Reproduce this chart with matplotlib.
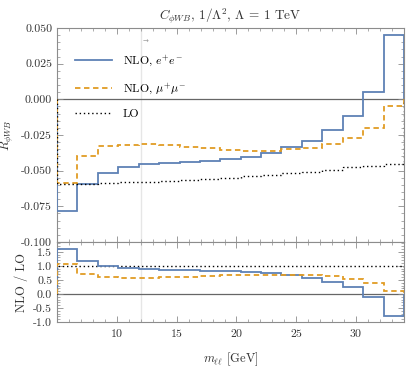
import matplotlib
matplotlib.use("Agg")
import matplotlib.pyplot as plt
import numpy as np
from matplotlib.ticker import MultipleLocator, FixedLocator, FormatStrFormatter

# bin edges in m_ll [GeV]
edges = [5.0, 6.71, 8.41, 10.12, 11.82, 13.53, 15.24, 16.94, 18.65, 20.35,
         22.06, 23.76, 25.47, 27.18, 28.88, 30.59, 32.29, 34.0]
xticks = [10, 15, 20, 25, 30]

# R_phiWB, upper panel
nlo_ee = [-0.0785, -0.0593, -0.0513, -0.0472, -0.0456, -0.0446, -0.0439, -0.0432, -0.0418,
          -0.0401, -0.0377, -0.0337, -0.0289, -0.0218, -0.0118, 0.0048, 0.0449]
nlo_mm = [-0.0585, -0.0394, -0.0325, -0.0322, -0.0310, -0.0320, -0.0334, -0.0344, -0.0356,
          -0.0363, -0.0363, -0.0349, -0.0344, -0.0311, -0.0268, -0.0202, -0.0047]
lo = [-0.0590, -0.0593, -0.0586, -0.0580, -0.0576, -0.0569, -0.0562, -0.0557, -0.0551,
      -0.0536, -0.0527, -0.0517, -0.0506, -0.0496, -0.0477, -0.0465, -0.0453]

# NLO / LO, lower panel
ratio_ee = [1.60, 1.19, 1.01, 0.93, 0.89, 0.87, 0.85, 0.83, 0.80, 0.77, 0.73, 0.67,
            0.57, 0.41, 0.23, -0.11, -0.77]
ratio_mm = [1.08, 0.71, 0.59, 0.57, 0.58, 0.59, 0.62, 0.65, 0.68, 0.69, 0.69, 0.69,
            0.67, 0.64, 0.54, 0.40, 0.09]
ratio_lo = [1.0] * 17

blue = "#5e81b5"
orange = "#e19c24"
frame = "#8c8c8c"

plt.rcParams["font.family"] = ["cmr10", "DejaVu Serif"]
plt.rcParams["mathtext.fontset"] = "cm"
plt.rcParams["axes.formatter.use_mathtext"] = True
plt.rcParams["axes.unicode_minus"] = True

fig = plt.figure(figsize=(4.07, 3.67), dpi=100)
ax = fig.add_axes([57/407, 1-242/367, 347/407, 214/367])
ax2 = fig.add_axes([57/407, 1-322/367, 347/407, 80/367])


def style(a):
    for s in a.spines.values():
        s.set_color(frame)
        s.set_linewidth(0.8)
    a.tick_params(which="both", direction="in", top=True, right=True,
                  color=frame, labelsize=8.5, labelcolor="#333333")
    a.tick_params(which="major", length=4, width=0.6)
    a.tick_params(which="minor", length=2, width=0.5)
    a.xaxis.set_major_locator(FixedLocator(xticks))
    a.xaxis.set_minor_locator(MultipleLocator(1))
    a.set_xlim(5, 34)
    a.axvline(12, color="#e6e6e6", lw=1.0, zorder=0)


style(ax)
style(ax2)

# upper panel
ax.axhline(0, color="#666666", lw=0.9, zorder=1)
ax.stairs(nlo_ee, edges, color=blue, lw=1.3, label="NLO, $e^{+}e^{-}$", zorder=3)
ax.stairs(nlo_mm, edges, color=orange, lw=1.3, ls=(0, (3, 2)), label="NLO, $\\mu^{+}\\mu^{-}$", zorder=3)
ax.stairs(lo, edges, color="black", lw=1.0, ls=(0, (1, 2)), label="LO", zorder=3)
ax.set_ylim(-0.1, 0.05)
ax.yaxis.set_major_locator(MultipleLocator(0.025))
ax.yaxis.set_minor_locator(MultipleLocator(0.005))
ax.yaxis.set_major_formatter(FormatStrFormatter("%.3f"))
ax.tick_params(labelbottom=False)
ax.set_ylabel("$R_{\\phi WB}$", fontsize=9, color="#333333", labelpad=4)
ax.set_title("$C_{\\phi WB}$, $1/\\Lambda^2$, $\\Lambda$ = 1 TeV", fontsize=9.5,
             color="#333333", pad=6)
ax.legend(loc="upper left", bbox_to_anchor=(0.02, 0.93), frameon=False, fontsize=8.5,
          handlelength=3.2, labelspacing=1.0, handletextpad=0.9)
ax.text(0.255, 0.935, "\u2192", transform=ax.transAxes, fontsize=5, color="#999999",
        family="DejaVu Sans", ha="center", va="center")

# lower panel
ax2.axhline(0, color="#666666", lw=0.9, zorder=1)
ax2.stairs(ratio_lo, edges, color="black", lw=1.0, ls=(0, (1, 2)), zorder=3)
ax2.stairs(ratio_ee, edges, color=blue, lw=1.3, zorder=3)
ax2.stairs(ratio_mm, edges, color=orange, lw=1.3, ls=(0, (3, 2)), zorder=3)
ax2.set_ylim(-1.0, 1.85)
ax2.yaxis.set_major_locator(MultipleLocator(0.5))
ax2.yaxis.set_minor_locator(MultipleLocator(0.1))
ax2.yaxis.set_major_formatter(FormatStrFormatter("%.1f"))
ax2.set_ylabel("NLO / LO", fontsize=9, color="#333333", labelpad=4)
ax2.set_xlabel("$m_{\\ell\\ell}$ [GeV]", fontsize=9, color="#333333", labelpad=8)

fig.savefig("out.png", dpi=100)
